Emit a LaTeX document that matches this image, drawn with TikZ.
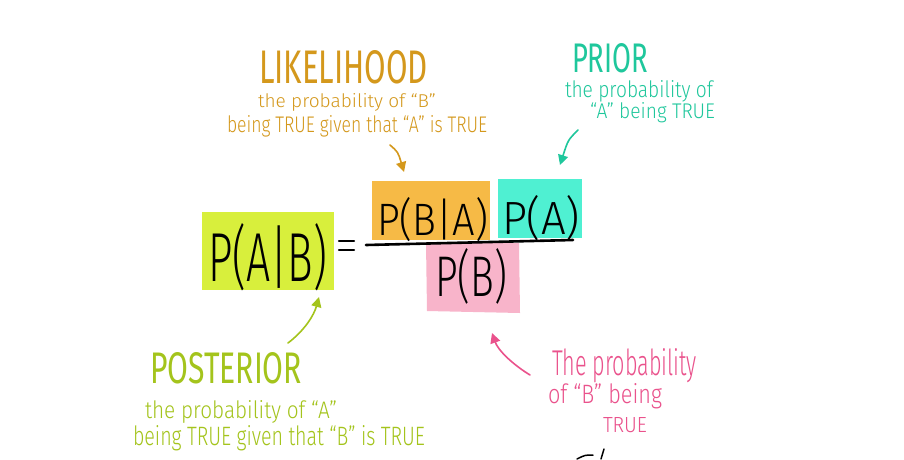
\documentclass[tikz,border=0pt]{standalone}
\usepackage{fontspec}
\usepackage{graphicx}
\usetikzlibrary{arrows.meta}
\newfontfamily\hand{Fira Sans Light}
\newfontfamily\handb{Fira Sans}
\definecolor{gbox}{HTML}{D8EF3C}
\definecolor{obox}{HTML}{F6BA46}
\definecolor{tbox}{HTML}{4FF0D2}
\definecolor{pbox}{HTML}{F8B4CA}
\definecolor{gtxt}{HTML}{A4C41C}
\definecolor{otxt}{HTML}{D4981C}
\definecolor{ttxt}{HTML}{1FC79C}
\definecolor{ptxt}{HTML}{EA528C}
\newcommand{\fitt}[3]{\resizebox{#1pt}{#2pt}{\hand #3}}
\newcommand{\fittb}[3]{\resizebox{#1pt}{#2pt}{\handb #3}}
\tikzset{
  txt/.style={anchor=base west, inner sep=0pt, outer sep=0pt},
  pointer/.style={line width=1.6pt, line cap=round, -{Triangle[width=10pt,length=10pt]}}
}
\begin{document}
\begin{tikzpicture}[x=1pt,y=-1pt]
\useasboundingbox (0,0) rectangle (904,459);
\fill[white] (0,0) rectangle (904,459);
% boxes
\fill[gbox] (202,212) rectangle (334,290);
\fill[obox] (372,181) rectangle (490,240);
\fill[tbox] (498,179) rectangle (582,238);
\fill[pbox] (426,243) -- (519,243) -- (520,313) -- (427,311) -- cycle;
% formula
\node[txt] (post) at (208,281) {\fitt{119}{58}{P(A|B)}};
\node[txt] (like) at (377,235) {\fitt{111}{38}{P(B|A)}};
\node[txt] (prior) at (502,234) {\fitt{78}{39}{P(A)}};
\node[txt] (evid) at (435,296) {\fitt{72}{48}{P(B)}};
\coordinate (eqa) at (339,241); \coordinate (eqb) at (354,241);
\coordinate (eqc) at (339,250); \coordinate (eqd) at (354,250);
\draw[line width=2.2pt, line cap=round] (eqa) -- (eqb) (eqc) -- (eqd);
\coordinate (fl) at (366,245); \coordinate (fr) at (573,240);
\draw[line width=2.6pt, line cap=round] (fl) -- (fr);
% likelihood
\node[txt, text=otxt] (lt) at (259,83) {\fittb{169}{33}{LIKELIHOOD}};
\node[txt, text=otxt] (l1) at (258,107) {\fitt{178}{14}{the probability of “B”}};
\node[txt, text=otxt] (l2) at (227,132) {\fitt{260}{17}{being TRUE given that “A” is TRUE}};
\coordinate (la) at (390,145);
\coordinate (lb) at (404,172);
\draw[pointer, otxt] (la) .. controls (398,152) .. (lb);
% prior
\node[txt, text=ttxt] (pt) at (572,72) {\fittb{76}{29}{PRIOR}};
\node[txt, text=ttxt] (p1) at (565,97) {\fitt{148}{17}{the probability of}};
\node[txt, text=ttxt] (p2) at (590,118) {\fitt{125}{16}{“A” being TRUE}};
\coordinate (pa) at (578,130);
\coordinate (pb) at (560,165);
\draw[pointer, ttxt] (pa) .. controls (568,140) .. (pb);
% posterior
\node[txt, text=gtxt] (qt) at (150,383) {\fittb{152}{31}{POSTERIOR}};
\node[txt, text=gtxt] (q1) at (145,418) {\fitt{192}{18}{the probability of “A”}};
\node[txt, text=gtxt] (q2) at (133,445) {\fitt{292}{20}{being TRUE given that “B” is TRUE}};
\coordinate (qa) at (288,343);
\coordinate (qb) at (319,297);
\draw[pointer, gtxt] (qa) .. controls (305,330) and (314,315) .. (qb);
% evidence note
\node[txt, text=ptxt] (e1) at (552,375) {\fitt{145}{27}{The probability}};
\node[txt, text=ptxt] (e2) at (548,403) {\fitt{114}{20}{of “B” being}};
\node[txt, text=ptxt] (e3) at (603,432) {\fitt{44}{15}{TRUE}};
\coordinate (ea) at (530,375);
\coordinate (eb) at (492,333);
\draw[pointer, ptxt] (ea) .. controls (512,364) and (498,350) .. (eb);
% cut-off fragment at the bottom
\coordinate (f1) at (577,459); \coordinate (f2) at (593,455);
\coordinate (f3) at (604,449); \coordinate (f4) at (601,459);
\draw[line width=1.5pt, line cap=round] (f1) .. controls (585,455) .. (f2) (f3) -- (f4);
\end{tikzpicture}
\end{document}
